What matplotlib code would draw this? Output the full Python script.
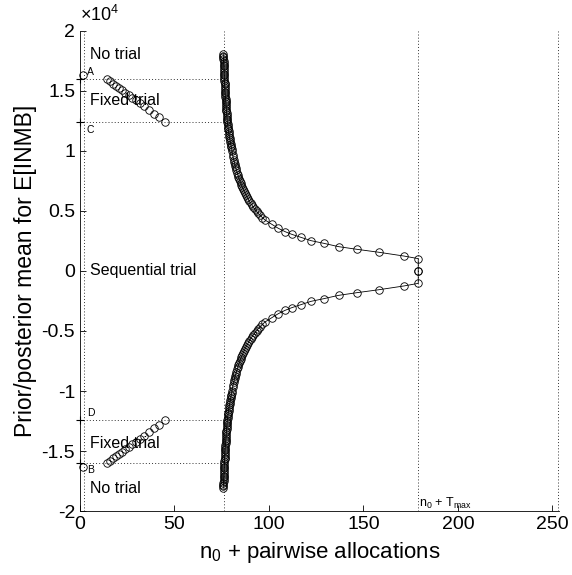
import numpy as np
import matplotlib
matplotlib.use('Agg')
import matplotlib.pyplot as plt
from matplotlib.ticker import FuncFormatter

plt.rcParams['font.family'] = ['Liberation Sans', 'DejaVu Sans']
plt.rcParams['mathtext.fontset'] = 'custom'
plt.rcParams['mathtext.rm'] = 'Liberation Sans'
plt.rcParams['mathtext.it'] = 'Liberation Sans'

# stopping boundary, upper branch (lower branch is its mirror)
bound_x = [75.80, 75.84, 75.89, 75.93, 75.97, 76.02, 76.06, 76.11, 76.15, 76.19,
           76.24, 76.28, 76.32, 76.37, 76.41, 76.45, 76.50, 76.54, 76.58, 76.63,
           76.67, 76.73, 76.80, 76.87, 76.94, 77.02, 77.09, 77.16, 77.23, 77.30,
           77.38, 77.45, 77.52, 77.59, 77.66, 77.74, 77.81, 77.88, 77.97, 78.08,
           78.20, 78.32, 78.45, 78.58, 78.72, 78.87, 79.02, 79.18, 79.35, 79.52,
           79.70, 79.89, 80.08, 80.28, 80.45,
           80.7, 81.0, 81.3, 81.6, 81.9, 82.2, 82.5, 82.8, 83.15, 83.5,
           83.85, 84.2, 84.6, 85.0, 85.4, 85.85, 86.3, 86.8, 87.3, 87.85,
           88.4, 89.0, 89.6, 90.3, 91.0, 91.8, 92.6, 93.5, 94.4, 95.4, 96.5,
           97.9, 101.4, 104.9, 108.5, 112.0, 116.8, 122.2, 128.9, 136.8,
           146.4, 158.2, 171.3, 179.0]
bound_y = [18100, 17950, 17800, 17650, 17500, 17350, 17200, 17050, 16900, 16750,
           16600, 16450, 16300, 16150, 16000, 15850, 15700, 15550, 15400, 15250,
           15100, 14950, 14800, 14650, 14500, 14350, 14200, 14050, 13900, 13750,
           13600, 13450, 13300, 13150, 13000, 12850, 12700, 12550, 12400, 12250,
           12100, 11950, 11800, 11650, 11500, 11350, 11200, 11050, 10900, 10750,
           10600, 10450, 10300, 10150, 10000,
           9701, 9489, 9286, 9091, 8904, 8725, 8553, 8387, 8202, 8025,
           7855, 7692, 7514, 7345, 7182, 7008, 6842, 6667, 6500, 6326,
           6161, 5991, 5830, 5652, 5485, 5306, 5138, 4962, 4797, 4626, 4452,
           4250, 3900, 3560, 3280, 3060, 2810, 2530, 2310, 2030,
           1810, 1560, 1250, 1030]

# fixed trial region, upper
fixed_x = [14.1, 15.9, 17.5, 19.0, 20.6, 22.2, 24.0, 25.8, 27.7, 29.6,
           31.7, 34.0, 36.5, 39.2, 42.0, 45.0]
fixed_y = [16000, 15793, 15609, 15437, 15253, 15069, 14862, 14656, 14437, 14219,
           13978, 13714, 13426, 13116, 12795, 12450]

yA, yC = 16000, 12450
pt_AB = 16300
n0 = 2
tau = 76
n0_Tmax = 179
x_end = 253

fig = plt.figure(figsize=(5.72, 5.75), dpi=100)
ax = fig.add_axes([0.1399, 0.1113, 0.8374, 0.8348])

mk = dict(marker='o', mfc='none', mec='k', ms=5.4, mew=0.6)
dot = dict(color='0.2', lw=0.7, ls=(0, (1, 2.2)))

# vertical guides
for xv in [n0, tau, n0_Tmax, x_end]:
    ax.axvline(xv, **dot)

# horizontal guides
for yv in [yA, yC, -yC, -yA]:
    ax.plot([0, tau], [yv, yv], **dot)
ax.plot([0, 0, 0, 0], [yA, yC, -yC, -yA], 'k+', ms=6, mew=0.8, clip_on=False)
ax.plot([1.4, 1.4], [pt_AB, -pt_AB], ls='none', clip_on=False, **mk)

# fixed trial points
ax.plot(fixed_x, fixed_y, ls='none', **mk)
ax.plot(fixed_x, [-v for v in fixed_y], ls='none', **mk)

# sequential boundaries
ax.plot(bound_x + [n0_Tmax], bound_y + [0], color='k', lw=0.6, **mk)
ax.plot(bound_x + [n0_Tmax], [-v for v in bound_y] + [0], color='k', lw=0.6, **mk)

# region labels
fs = 11.5
ax.text(5.5, 18060, 'No trial', fontsize=fs, va='center')
ax.text(5.5, 14200, 'Fixed trial', fontsize=fs, va='center')
ax.text(5.5, 0, 'Sequential trial', fontsize=fs, va='center')
ax.text(5.5, -14360, 'Fixed trial', fontsize=fs, va='center')
ax.text(5.5, -18100, 'No trial', fontsize=fs, va='center')

ax.text(3.5, 16550, 'A', fontsize=7.5, va='center')
ax.text(3.5, 11750, 'C', fontsize=7.5, va='center')
ax.text(3.5, -11800, 'D', fontsize=7.5, va='center')
ax.text(3.5, -16600, 'B', fontsize=7.5, va='center')
ax.text(n0_Tmax + 0.5, -19350, r'n$_0$ + T$_{\rm max}$', fontsize=9, va='center')

ax.set_xlim(0, 253.5)
ax.set_ylim(-20000, 20000)
ax.set_xticks([0, 50, 100, 150, 200, 250])
ax.set_yticks(np.arange(-20000, 20001, 5000))
ax.yaxis.set_major_formatter(FuncFormatter(lambda v, p: '%g' % (v / 1e4)))
ax.text(0.0, 1.012, r'$\times$10$^{4}$', transform=ax.transAxes, fontsize=13,
        ha='left', va='bottom')

ax.spines['top'].set_visible(False)
ax.spines['right'].set_visible(False)
ax.tick_params(direction='in', length=4, width=0.6, labelsize=14)
for s in ['left', 'bottom']:
    ax.spines[s].set_linewidth(0.6)

ax.set_xlabel(r'n$_0$ + pairwise allocations', fontsize=16, labelpad=5)
ax.set_ylabel('Prior/posterior mean for E[INMB]', fontsize=16.5, labelpad=3)

fig.savefig('out.png', dpi=100)
